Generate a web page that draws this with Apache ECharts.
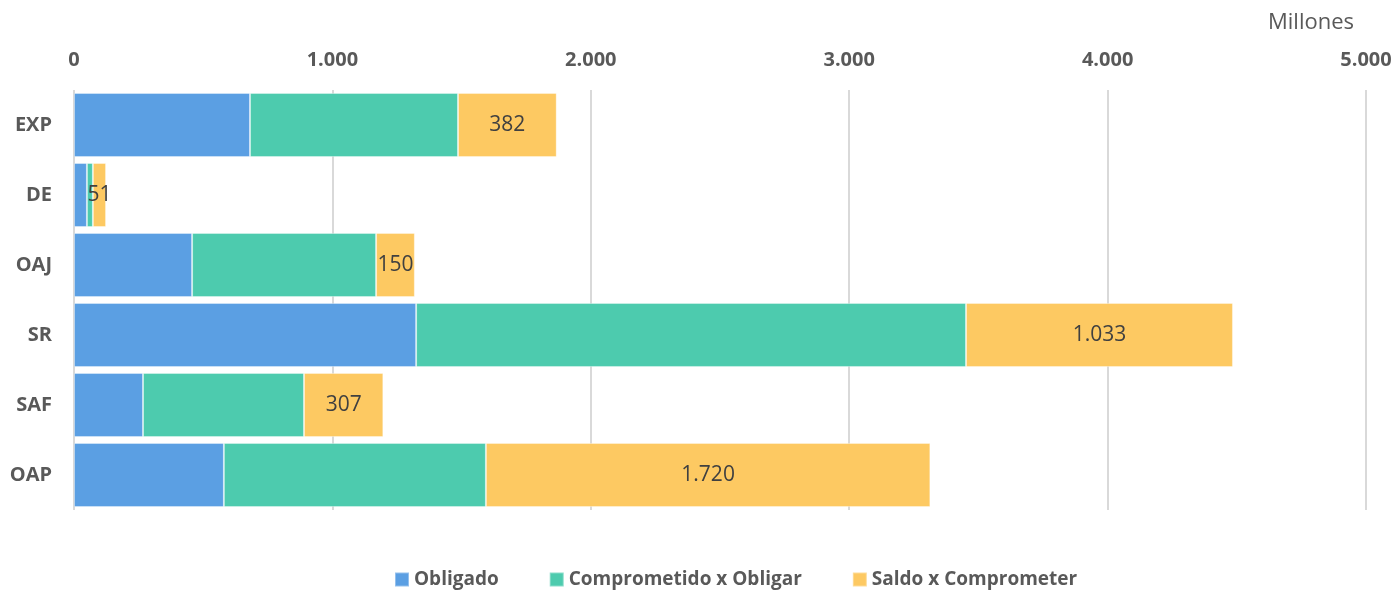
<!DOCTYPE html>
<html>
<head>
<meta charset="utf-8">
<script src="https://cdn.jsdelivr.net/npm/echarts@6/dist/echarts.min.js"></script>
<style>
  html, body { margin: 0; padding: 0; background: #fff; }
  #chart { width: 1399px; height: 594px; }
</style>
</head>
<body>
<div id="chart"></div>
<script>
// categories, top to bottom
const categories = ['EXP', 'DE', 'OAJ', 'SR', 'SAF', 'OAP'];
// valores en millones
const obligado = [681, 50, 457, 1324, 267, 580];
const comprometido = [805, 23, 712, 2128, 623, 1014];
const saldo = [382, 51, 150, 1033, 307, 1720];
const seriesNames = ['Obligado', 'Comprometido x Obligar', 'Saldo x Comprometer'];
const colors = ['#5B9FE3', '#4DCBAE', '#FDC962'];

const fmt = v => String(v).replace(/\B(?=(\d{3})+(?!\d))/g, '.');
const font = '"Open Sans", "Liberation Sans", sans-serif';

const chart = echarts.init(document.getElementById('chart'));

const option = {
  animation: false,
  color: colors,
  title: {
    text: 'Millones',
    right: 40,
    top: 7,
    textStyle: { fontFamily: font, fontSize: 22, fontWeight: 'normal', color: '#595959' }
  },
  legend: {
    bottom: 0,
    left: 389,
    itemWidth: 14,
    itemHeight: 14,
    itemGap: 50,
    icon: 'rect',
    textStyle: { fontFamily: font, fontSize: 19, fontWeight: 'bold', color: '#595959' },
    data: seriesNames
  },
  grid: { left: 74, right: 33, top: 90, height: 420, containLabel: false },
  xAxis: {
    type: 'value',
    position: 'top',
    min: 0,
    max: 5000,
    interval: 1000,
    axisLine: { show: false },
    axisTick: { show: false },
    splitLine: { lineStyle: { color: '#D9D9D9', width: 2 } },
    axisLabel: {
      margin: 20,
      fontFamily: font, fontSize: 20, fontWeight: 'bold', color: '#595959',
      formatter: fmt
    }
  },
  yAxis: {
    type: 'category',
    inverse: true,
    data: categories,
    axisLine: { show: false },
    axisTick: { show: false },
    axisLabel: {
      margin: 22,
      fontFamily: font, fontSize: 20, fontWeight: 'bold', color: '#595959'
    }
  },
  series: [
    {
      name: seriesNames[0], type: 'bar', stack: 'total', data: obligado,
      barCategoryGap: '8.6%',
      itemStyle: { borderColor: 'rgba(255,255,255,0.35)', borderWidth: 1 }
    },
    {
      name: seriesNames[1], type: 'bar', stack: 'total', data: comprometido,
      itemStyle: { borderColor: 'rgba(255,255,255,0.35)', borderWidth: 1 }
    },
    {
      name: seriesNames[2], type: 'bar', stack: 'total', data: saldo,
      itemStyle: { borderColor: 'rgba(255,255,255,0.35)', borderWidth: 1 },
      label: {
        show: true,
        position: 'inside',
        fontFamily: font, fontSize: 21, color: '#404040',
        formatter: p => fmt(p.value)
      }
    }
  ]
};

chart.setOption(option);
</script>
</body>
</html>
